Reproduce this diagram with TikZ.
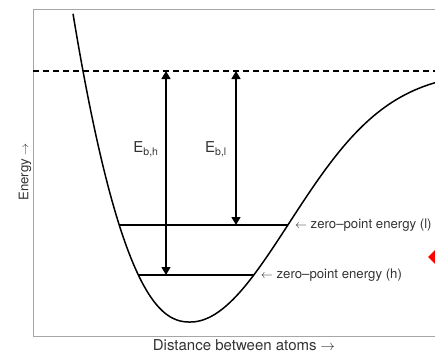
\documentclass[tikz,border=0pt]{standalone}
\usepackage{fontspec}
\setmainfont{TeX Gyre Heros}
\usetikzlibrary{arrows.meta, positioning, calc}

\begin{document}
\begin{tikzpicture}[x=1pt, y=-1pt, >={Triangle[width=9pt,length=8pt]}, font=\fontsize{13.2}{16}\selectfont]
  % Styles
  \tikzstyle{axisframe} = [draw=black!35, line width=0.9pt]
  \tikzstyle{potential} = [draw, line width=1.5pt]
  \tikzstyle{zpline} = [draw, line width=1.3pt]
  \tikzstyle{dissoc} = [draw, line width=1.3pt, dash pattern=on 6pt off 4pt]
  \tikzstyle{bindarrow} = [draw, <->, line width=1.3pt]
  \tikzstyle{txt} = [text=black!80, inner sep=1pt]
  \tikzstyle{etxt} = [txt, font=\fontsize{15}{18}\selectfont]

  \useasboundingbox (0,0) rectangle (435,354);
  \clip (0,0) rectangle (435,354);

  % Frame
  \draw[axisframe] (435,9) -- (33,9) -- (33,336) -- (435,336);

  % Dissociation limit
  \coordinate (lim-w) at (33,71);
  \coordinate (lim-e) at (435,71);
  \draw[dissoc] (lim-w) -- (lim-e);

  % Potential curve
  \draw[potential] plot[domain=73:190, samples=80] (\x, {322-251*pow(max(190-\x,0.001)/107,2.3)})
    -- plot[domain=190:440, samples=100] (\x, {322-251*(1-exp(-((\x-190)/140)^2))});

  % Zero-point levels
  \coordinate (zl-w) at (119.3,225);
  \coordinate (zl-e) at (287.8,225);
  \coordinate (zh-w) at (138.4,275);
  \coordinate (zh-e) at (253.7,275);
  \draw[zpline] (zl-w) -- (zl-e);
  \draw[zpline] (zh-w) -- (zh-e);
  \node[txt, right=6pt of zl-e] (zl) {$\leftarrow$ zero--point energy (l)};
  \node[txt, right=6pt of zh-e] (zh) {$\leftarrow$ zero--point energy (h)};

  % Binding energies
  \coordinate (bh-top) at (166,71);
  \coordinate (bh-bot) at (166,275);
  \coordinate (bl-top) at (236,71);
  \coordinate (bl-bot) at (236,225);
  \draw[bindarrow] (bh-bot) -- (bh-top);
  \draw[bindarrow] (bl-bot) -- (bl-top);
  \node[etxt] (ebh) at (146,149) {E\textsubscript{b,h}};
  \node[etxt] (ebl) at (216,149) {E\textsubscript{b,l}};

  % Axis labels
  \node[txt, rotate=90] (energy) at (25,172) {Energy $\rightarrow$};
  \node[txt, font=\fontsize{15}{18}\selectfont] (dist) at (244,345) {Distance between atoms $\rightarrow$};

  % Marker at the edge
  \fill[red] (428,257) -- (440,245) -- (452,257) -- (440,269) -- cycle;
\end{tikzpicture}
\end{document}
